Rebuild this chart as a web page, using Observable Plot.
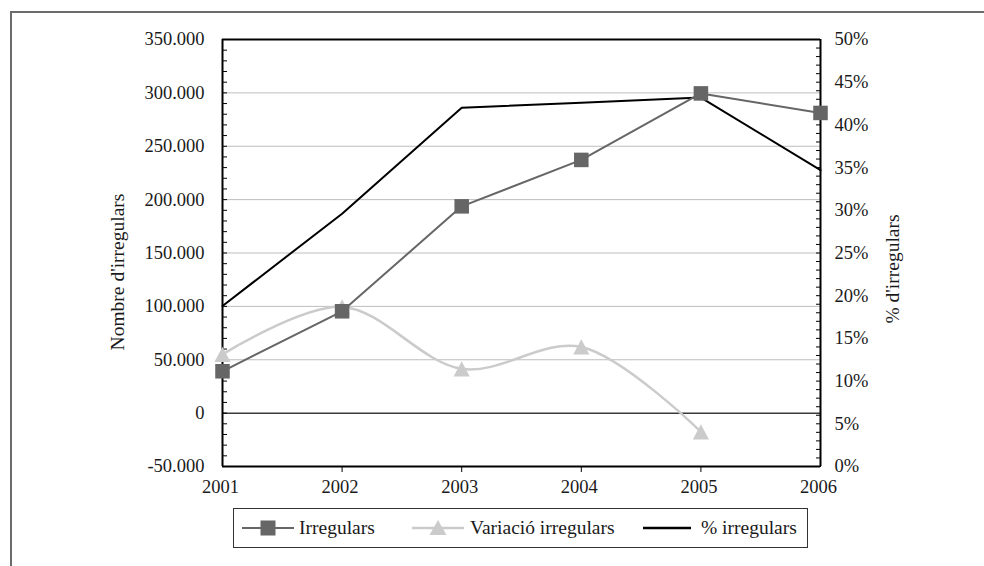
<!DOCTYPE html>
<html><head><meta charset="utf-8">
<script src="https://cdn.jsdelivr.net/npm/d3@7"></script>
<script src="https://cdn.jsdelivr.net/npm/@observablehq/plot@0.6"></script>
<style>
body{margin:0;overflow:hidden;background:#fff;font-family:"Liberation Serif",serif;color:#1a1a1a;}
#wrap{position:relative;width:984px;height:566px;overflow:hidden;}
#frame{position:absolute;left:10px;top:11px;width:1000px;height:600px;border:2px solid #6b6b6b;box-sizing:border-box;}
#chart{position:absolute;left:0;top:0;}
#legend{position:absolute;left:233px;top:508px;width:575px;height:40px;border:1.5px solid #333;box-sizing:border-box;background:#fff;font-size:19.5px;}
#legend .it{position:absolute;top:0;height:37px;line-height:37px;white-space:nowrap;}
#legend svg{position:absolute;top:0;}
</style></head><body><div id="wrap"><div id="frame"></div><div id="chart"></div><div id="legend"></div></div>
<script>
// ---- data ----
const years = [2001, 2002, 2003, 2004, 2005, 2006];
const irregulars = [39200, 95400, 193700, 237200, 299500, 281200];
const variacioYears = [2001, 2002, 2003, 2004, 2005];
const variacio = [55000, 99500, 41500, 62000, -17500];
const pctIrregulars = [18.8, 29.6, 42.0, 42.6, 43.2, 34.7];
const leftTicks = [-50000, 0, 50000, 100000, 150000, 200000, 250000, 300000, 350000];
const rightTicks = [0, 5, 10, 15, 20, 25, 30, 35, 40, 45, 50];
const seriesNames = ["Irregulars", "Variació irregulars", "% irregulars"];
const leftTitle = "Nombre d'irregulars";
const rightTitle = "% d'irregulars";

// ---- scales helpers ----
const yMin = -50000, yMax = 350000, pMax = 50;
const pToY = p => yMin + p / pMax * (yMax - yMin);
const yToP = y => (y - yMin) / (yMax - yMin) * pMax;
const fmtNum = d => (d < 0 ? "-" : "") + d3.format(",")(Math.abs(d)).replace(/,/g, ".");

const irrData = years.map((x, i) => ({x, y: irregulars[i]}));
const varData = variacioYears.map((x, i) => ({x, y: variacio[i]}));
const pctData = years.map((x, i) => ({x, y: pToY(pctIrregulars[i])}));
const minorLeft = d3.range(yMin, yMax + 1, 10000);
const minorRight = d3.range(0, pMax + 0.01, 1).map(pToY);
const grid = leftTicks.filter(d => d > 0 && d < yMax);

const COL_IRR = "#666666", COL_VAR = "#cbcbcb", COL_PCT = "#000000";

const triSym = {draw(ctx, size) {
  const s = Math.sqrt(size);
  ctx.moveTo(0, -s / 2); ctx.lineTo(s * 0.53, s / 2); ctx.lineTo(-s * 0.53, s / 2); ctx.closePath();
}};

const chart = Plot.plot({
  width: 984, height: 566,
  marginLeft: 222, marginRight: 164, marginTop: 39, marginBottom: 100,
  x: {domain: [2001, 2006]},
  y: {domain: [yMin, yMax]},
  style: {fontFamily: "Liberation Serif", fontSize: "18.5px", color: "#1a1a1a", background: "transparent", overflow: "visible"},
  marks: [
    Plot.ruleY(grid, {stroke: "#bdbdbd", strokeWidth: 1}),
    Plot.ruleY([0], {stroke: "#3a3a3a", strokeWidth: 1.5}),
    // minor ticks (inside)
    Plot.axisY(minorLeft, {anchor: "left", tickSize: -5, tickFormat: () => "", label: null, stroke: "#000"}),
    Plot.axisY(minorRight, {anchor: "right", tickSize: -5, tickFormat: () => "", label: null, stroke: "#000"}),
    // tick labels
    Plot.axisY(leftTicks, {anchor: "left", tickSize: 0, tickPadding: 18, tickFormat: fmtNum, label: null}),
    Plot.axisY(rightTicks.map(pToY), {anchor: "right", tickSize: 0, tickPadding: 14, tickFormat: d => Math.round(yToP(d)) + "%", label: null}),
    Plot.axisX(years.slice(1, -1), {anchor: "bottom", tickSize: 6, tickFormat: () => "", label: null, stroke: "#000"}),
    Plot.axisX(years, {anchor: "bottom", tickSize: 0, tickPadding: 13, dx: -2, tickFormat: d => String(d), label: null}),
    // frame
    Plot.ruleX([2001, 2006], {stroke: "#000", strokeWidth: 2}),
    Plot.ruleY([yMin, yMax], {stroke: "#000", strokeWidth: 2}),
    // series
    Plot.line(pctData, {x: "x", y: "y", stroke: COL_PCT, strokeWidth: 2}),
    Plot.line(varData, {x: "x", y: "y", stroke: COL_VAR, strokeWidth: 2.5, curve: "catmull-rom"}),
    Plot.dot(varData, {x: "x", y: "y", symbol: triSym, r: 8.6, fill: COL_VAR, stroke: "none"}),
    Plot.line(irrData, {x: "x", y: "y", stroke: COL_IRR, strokeWidth: 2}),
    Plot.dot(irrData, {x: "x", y: "y", symbol: "square", r: 8.2, fill: COL_IRR, stroke: "none"}),
    // axis titles
    Plot.text([leftTitle], {frameAnchor: "left", textAnchor: "middle", dx: -105, dy: 19, rotate: -90, fontSize: 19.5, fill: "#1a1a1a"}),
    Plot.text([rightTitle], {frameAnchor: "right", textAnchor: "middle", dx: 72, dy: 16, rotate: -90, fontSize: 19.5, fill: "#1a1a1a"})
  ]
});
document.getElementById("chart").appendChild(chart);

// ---- legend ----
const legend = document.getElementById("legend");
const items = [
  {name: seriesNames[0], color: COL_IRR, lx: 8, lw: 52, tx: 65, marker: "square", sw: 2},
  {name: seriesNames[1], color: COL_VAR, lx: 178, lw: 52, tx: 236, marker: "tri", sw: 2.5},
  {name: seriesNames[2], color: COL_PCT, lx: 409, lw: 48, tx: 467, marker: null, sw: 2.5}
];
for (const it of items) {
  const svg = d3.create("svg").attr("width", it.lw).attr("height", 37).style("left", it.lx + "px");
  svg.append("line").attr("x1", 0).attr("x2", it.lw).attr("y1", 19).attr("y2", 19)
    .attr("stroke", it.color).attr("stroke-width", it.sw);
  const c = it.lw / 2;
  if (it.marker === "square") svg.append("rect").attr("x", c - 7.5).attr("y", 11.5).attr("width", 15).attr("height", 15).attr("fill", it.color);
  if (it.marker === "tri") svg.append("path").attr("d", `M${c},11L${c + 8.5},26L${c - 8.5},26Z`).attr("fill", it.color);
  legend.appendChild(svg.node());
  const span = document.createElement("span");
  span.className = "it"; span.style.left = it.tx + "px"; span.textContent = it.name;
  legend.appendChild(span);
}
</script></body></html>
